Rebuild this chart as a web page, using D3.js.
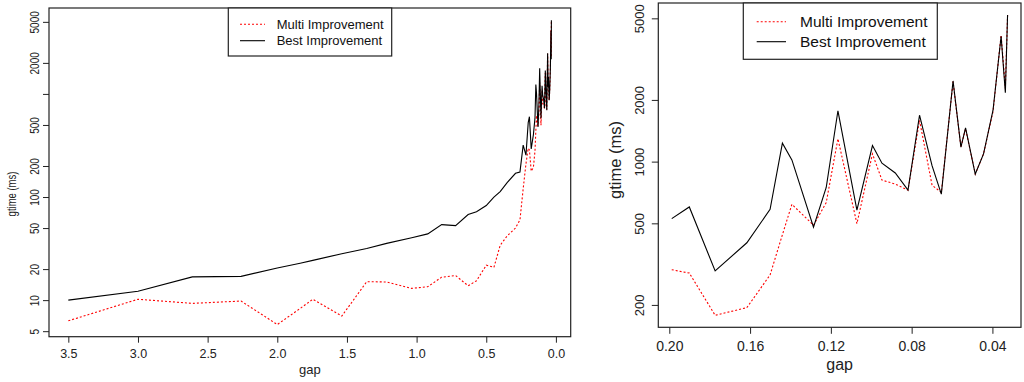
<!DOCTYPE html>
<html>
<head>
<meta charset="utf-8">
<script src="https://cdn.jsdelivr.net/npm/d3@7"></script>
<style>
  body { margin: 0; background: #fff; }
  svg { display: block; font-family: "Liberation Sans", Arial, sans-serif; }
</style>
</head>
<body>
<script>
// gap values (same for both series), left panel uses all, right panel only gap < 0.2
const gaps = [3.5, 3.0, 2.61, 2.26, 2.0, 1.836, 1.745, 1.537, 1.358, 1.215, 1.035, 0.92,
  0.82, 0.72, 0.63, 0.57, 0.5, 0.445, 0.4, 0.35, 0.29, 0.258, 0.235, 0.215,
  0.1988, 0.1901, 0.1773, 0.1616, 0.1501, 0.1440, 0.1393, 0.1286, 0.1223, 0.1165,
  0.1071, 0.0994, 0.0947, 0.0881, 0.0818, 0.0761, 0.0699, 0.0653, 0.0595, 0.0556,
  0.0533, 0.0485, 0.0444, 0.0397, 0.0357, 0.0336, 0.0325];
const bestImprovement = [10.0, 12.2, 16.8, 17.0, 20.5, 22.8, 24.3, 28.2, 31.7, 35.5, 40.3, 43.9,
  54, 52.8, 67.6, 72, 82.7, 100, 113, 138, 170, 175, 319, 255,
  527, 601, 293, 402, 585, 1231, 1020, 479, 748, 1770,
  580, 1198, 982, 880, 726, 1684, 956, 694, 2475, 1177,
  1460, 870, 1091, 1782, 4090, 2170, 5190];
const multiImprovement = [6.3, 10.2, 9.3, 9.8, 5.8, 8.3, 10.2, 7.0, 15.1, 15.0, 13.0, 13.5,
  16.7, 17.3, 13.8, 15.4, 21.8, 20.8, 34, 42, 50, 60, 120, 210,
  297, 286, 178, 194, 280, 440, 619, 490, 631, 1293,
  498, 1091, 813, 777, 726, 1591, 768, 707, 2458, 1177,
  1448, 870, 1091, 1756, 4140, 2275, 5190];
const seriesNames = ["Multi Improvement", "Best Improvement"];

const leftXTicks = [3.5, 3.0, 2.5, 2.0, 1.5, 1.0, 0.5, 0.0];
const leftYTicks = [5, 10, 20, 50, 100, 200, 500, 1000, 2000, 5000];
const leftYLabels = ["5", "10", "20", "50", "100", "200", "500", "", "2000", "5000"];
const rightXTicks = [0.20, 0.16, 0.12, 0.08, 0.04];
const rightYTicks = [200, 500, 1000, 2000, 5000];

const svg = d3.select("body").append("svg")
  .attr("width", 1024).attr("height", 382);
svg.append("rect").attr("width", 1024).attr("height", 382).attr("fill", "#fff");

const rows = gaps.map((g, i) => ({ gap: g, best: bestImprovement[i], multi: multiImprovement[i] }));

// R style 4% padding
function padLin(ext) { const r = ext[1] - ext[0]; return [ext[0] - 0.04 * r, ext[1] + 0.04 * r]; }
function padLog(ext) {
  const a = Math.log10(ext[0]), b = Math.log10(ext[1]), r = b - a;
  return [Math.pow(10, a - 0.04 * r), Math.pow(10, b + 0.04 * r)];
}

function panel(p) {
  const data = rows.filter(p.filter);
  const xd = padLin(d3.extent(data, d => d.gap));
  const vals = data.flatMap(d => [d.best, d.multi]);
  const yd = padLog(d3.extent(vals));

  const x = d3.scaleLinear().domain([xd[1], xd[0]]).range([p.left, p.right]);
  const y = d3.scaleLog().domain(yd).range([p.bottom, p.top]);

  const g = svg.append("g");

  // y axis
  const ya = g.append("g")
    .attr("transform", `translate(${p.left},0)`)
    .call(d3.axisLeft(y).tickValues(p.yTicks).tickSize(p.tick)
      .tickFormat((d, i) => p.yLabels ? p.yLabels[i] : d3.format("d")(d)));
  ya.select(".domain").remove();
  ya.selectAll("line").attr("stroke", "#222");
  ya.selectAll("text")
    .attr("x", 0).attr("y", 0).attr("dy", null)
    .attr("text-anchor", "middle")
    .attr("transform", `translate(${-p.yLabOff},0) rotate(-90) scale(1,${p.vStretch})`)
    .attr("font-size", p.tickFont).attr("fill", "#222");

  // x axis
  const xa = g.append("g")
    .attr("transform", `translate(0,${p.bottom})`)
    .call(d3.axisBottom(x).tickValues(p.xTicks).tickSize(p.tick)
      .tickFormat(d3.format(p.xFmt)));
  xa.select(".domain").remove();
  xa.selectAll("line").attr("stroke", "#222");
  xa.selectAll("text")
    .attr("y", p.xLabOff).attr("dy", null)
    .attr("font-size", p.xTickFont).attr("fill", "#222");

  // axis titles
  g.append("text")
    .attr("transform", `translate(${p.yTitleX},${p.yTitleY}) rotate(-90) scale(1,${p.vStretch})`)
    .attr("text-anchor", "middle").attr("font-size", p.yTitleFont).attr("fill", "#222")
    .text("gtime (ms)");
  g.append("text")
    .attr("x", (p.left + p.right) / 2).attr("y", p.xTitleY)
    .attr("text-anchor", "middle").attr("font-size", p.xTitleFont).attr("fill", "#222")
    .text("gap");

  // lines
  const line = key => d3.line().x(d => x(d.gap)).y(d => y(d[key]));
  g.append("path").datum(data)
    .attr("d", line("multi"))
    .attr("fill", "none").attr("stroke", "#ff0000").attr("stroke-width", 1.1)
    .attr("stroke-dasharray", "2,2");
  g.append("path").datum(data)
    .attr("d", line("best"))
    .attr("fill", "none").attr("stroke", "#000").attr("stroke-width", 1.1);

  // box
  g.append("rect")
    .attr("x", p.left).attr("y", p.top)
    .attr("width", p.right - p.left).attr("height", p.bottom - p.top)
    .attr("fill", "none").attr("stroke", "#222").attr("stroke-width", 1.2);

  // legend
  const L = p.legend;
  g.append("rect")
    .attr("x", L.x0).attr("y", L.y0).attr("width", L.x1 - L.x0).attr("height", L.y1 - L.y0)
    .attr("fill", "#fff").attr("stroke", "#222").attr("stroke-width", 1.2);
  seriesNames.forEach((name, i) => {
    const ly = L.rows[i];
    g.append("line")
      .attr("x1", L.s0).attr("x2", L.s1).attr("y1", ly).attr("y2", ly)
      .attr("stroke", i === 0 ? "#ff0000" : "#000").attr("stroke-width", 1.1)
      .attr("stroke-dasharray", i === 0 ? "2,2" : null);
    g.append("text")
      .attr("x", L.tx).attr("y", ly).attr("dy", "0.35em")
      .attr("font-size", L.font).attr("fill", "#111")
      .text(name);
  });
}

panel({
  filter: d => true,
  left: 49, right: 570.7, top: 8, bottom: 336.7, vStretch: 1.3,
  tick: 6, yTicks: leftYTicks, yLabels: leftYLabels, yLabOff: 10, tickFont: 10,
  xTicks: leftXTicks, xFmt: ".1f", xLabOff: 21, xTickFont: 12.5,
  yTitleX: 16, yTitleY: 194, yTitleFont: 9.5,
  xTitleY: 374, xTitleFont: 13,
  legend: { x0: 228.3, x1: 391.7, y0: 8, y1: 56, s0: 240, s1: 265, rows: [24.3, 40.7], tx: 276.7, font: 13 }
});

panel({
  filter: d => d.gap < 0.2,
  left: 658.3, right: 1021, top: 3, bottom: 327.3, vStretch: 1,
  tick: 6.5, yTicks: rightYTicks, yLabels: null, yLabOff: 14, tickFont: 13,
  xTicks: rightXTicks, xFmt: ".2f", xLabOff: 23.7, xTickFont: 14,
  yTitleX: 621, yTitleY: 160, yTitleFont: 16.5,
  xTitleY: 370, xTitleFont: 16,
  legend: { x0: 743.3, x1: 937.3, y0: 3, y1: 59.3, s0: 756.7, s1: 786, rows: [21.7, 41.7], tx: 800, font: 15.5 }
});
</script>
</body>
</html>
